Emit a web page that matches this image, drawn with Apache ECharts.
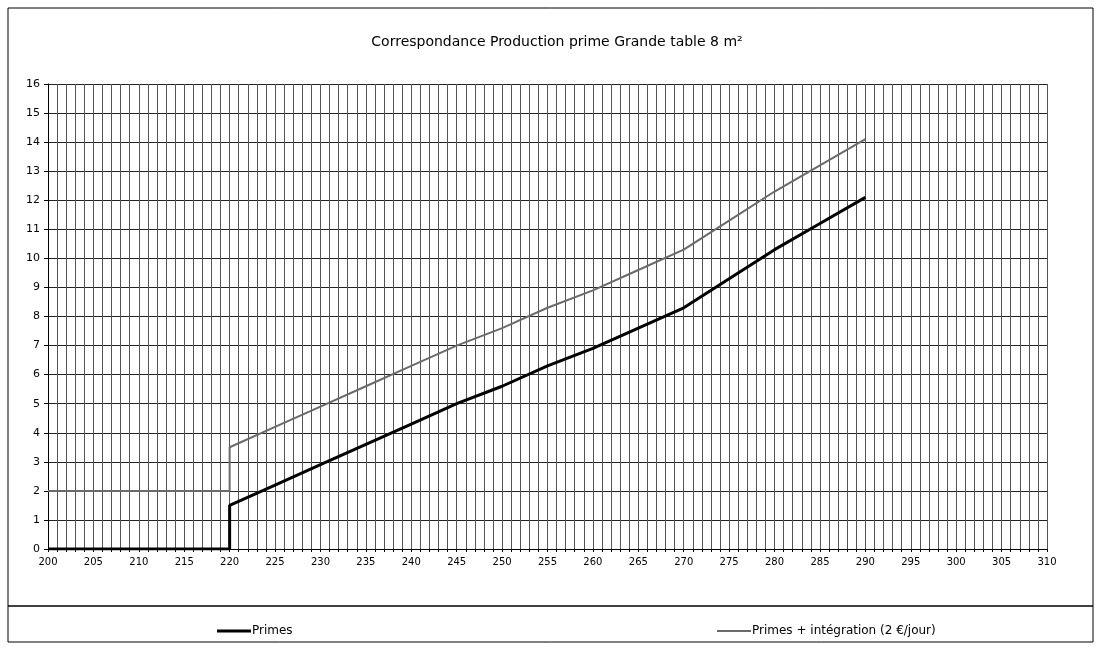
<!DOCTYPE html>
<html>
<head>
<meta charset="utf-8">
<script src="https://cdn.jsdelivr.net/npm/echarts@6/dist/echarts.min.js"></script>
<style>html,body{margin:0;padding:0;background:#fff}#c{width:1101px;height:648px}</style>
</head>
<body>
<div id="c"></div>
<script>
var titleText = 'Correspondance Production prime Grande table 8 m²';
var seriesNames = ['Primes', 'Primes + intégration (2 €/jour)'];
var primesX = [200, 220, 220, 225, 230, 235, 240, 245, 250, 255, 260, 265, 270, 275, 280, 285, 290];
var primesY = [0, 0, 1.5, 2.2, 2.9, 3.6, 4.3, 5.0, 5.6, 6.3, 6.9, 7.6, 8.3, 9.3, 10.3, 11.2, 12.1];
var integX = [200, 220, 220, 225, 230, 235, 240, 245, 250, 255, 260, 265, 270, 275, 280, 285, 290];
var integY = [2, 2, 3.5, 4.2, 4.9, 5.6, 6.3, 7.0, 7.6, 8.3, 8.9, 9.6, 10.3, 11.3, 12.3, 13.2, 14.1];
var xMin = 200, xMax = 310, yMin = 0, yMax = 16;

function pairs(xs, ys) { return xs.map(function (x, i) { return [x, ys[i]]; }); }

var chart = echarts.init(document.getElementById('c'));
var font = 'DejaVu Sans, Verdana, sans-serif';
chart.setOption({
  backgroundColor: '#fff',
  animation: false,
  textStyle: { fontFamily: font },
  title: {
    text: titleText, left: 552, top: 30, textAlign: 'center',
    textStyle: { fontFamily: font, fontSize: 14, fontWeight: 'normal', color: '#000' }
  },
  graphic: [
    { type: 'rect', shape: { x: 8, y: 8, width: 1085, height: 634 }, style: { fill: 'none', stroke: '#000', lineWidth: 1 } },
    { type: 'line', shape: { x1: 8, y1: 606, x2: 1093, y2: 606 }, style: { stroke: '#000', lineWidth: 1.5 } }
  ],
  legend: [
    { data: [seriesNames[0]], left: 212, top: 620, icon: 'rect', itemWidth: 34, itemHeight: 3,
      textStyle: { fontFamily: font, fontSize: 12, color: '#000', padding: [0, 0, 0, -4] } },
    { data: [seriesNames[1]], left: 712, top: 620, icon: 'rect', itemWidth: 34, itemHeight: 2,
      textStyle: { fontFamily: font, fontSize: 12, color: '#000', padding: [0, 0, 0, -4] } }
  ],
  grid: { left: 48, right: 54, top: 84, bottom: 99, containLabel: false },
  xAxis: {
    type: 'value', min: xMin, max: xMax, interval: 1,
    axisLine: { lineStyle: { color: '#000', width: 1 } },
    axisTick: { show: true, length: 3, lineStyle: { color: '#000' } },
    axisLabel: {
      color: '#000', fontSize: 10, fontFamily: font, margin: 8,
      formatter: function (v) { return (Math.round(v) % 5 === 0) ? String(Math.round(v)) : ''; }
    },
    splitLine: { show: true, lineStyle: { color: '#555', width: 1 } }
  },
  yAxis: {
    type: 'value', min: yMin, max: yMax, interval: 1,
    axisLine: { show: true, lineStyle: { color: '#000', width: 1 } },
    axisTick: { show: true, length: 4, lineStyle: { color: '#000' } },
    axisLabel: { color: '#000', fontSize: 11, fontFamily: font, margin: 8 },
    splitLine: { show: true, lineStyle: { color: '#222', width: 1.2 } }
  },
  series: [
    { name: seriesNames[0], type: 'line', data: pairs(primesX, primesY), showSymbol: false, symbol: 'none',
      lineStyle: { color: '#000', width: 3 }, itemStyle: { color: '#000' }, z: 3 },
    { name: seriesNames[1], type: 'line', data: pairs(integX, integY), showSymbol: false, symbol: 'none',
      lineStyle: { color: '#6a6a6a', width: 2 }, itemStyle: { color: '#6a6a6a' }, z: 2 }
  ]
});
</script>
</body>
</html>
